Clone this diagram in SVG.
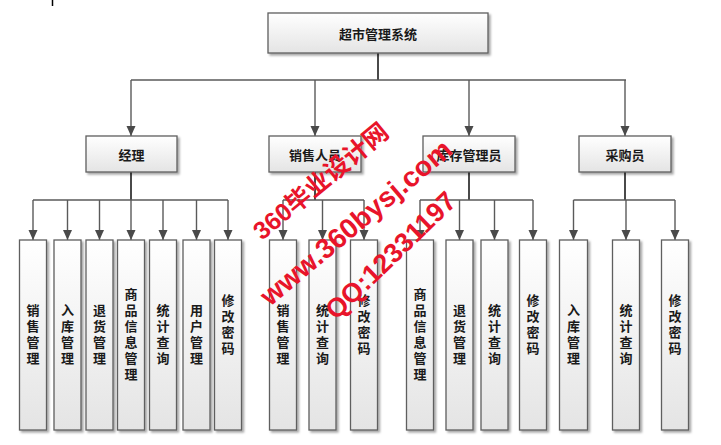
<svg xmlns="http://www.w3.org/2000/svg" width="721" height="445" viewBox="0 0 721 445">
<style>
.box{fill:url(#g);stroke:#5f5f5f;stroke-width:1.3;filter:url(#sh)}
.t{font-family:"Noto Sans CJK SC","Noto Sans",sans-serif;font-size:13px;font-weight:bold;fill:#1a1a1a;text-anchor:middle;dominant-baseline:central}
.v{font-family:"Noto Sans CJK SC","Noto Sans",sans-serif;font-size:13px;font-weight:bold;fill:#1a1a1a;text-anchor:middle;writing-mode:vertical-rl;letter-spacing:3px}
.ln{fill:none;stroke:#5a5a5a;stroke-width:1.4}
.stem{fill:none;stroke:#4a4a4a;stroke-width:2}
.ar{fill:none;stroke:#5a5a5a;stroke-width:1.4;marker-end:url(#ah)}
.wm{font-family:"Liberation Sans",Arial,"Noto Sans CJK SC",sans-serif;fill:#e8142a;font-weight:bold}
</style>
<defs>
<linearGradient id="g" x1="0" y1="0" x2="0" y2="1">
<stop offset="0" stop-color="#ffffff"/>
<stop offset="1" stop-color="#e4e4e4"/>
</linearGradient>
<filter id="sh" x="-20%" y="-20%" width="140%" height="140%">
<feDropShadow dx="2" dy="2" stdDeviation="1.2" flood-color="#000" flood-opacity="0.35"/>
</filter>
<marker id="ah" markerUnits="userSpaceOnUse" markerWidth="10" markerHeight="10" viewBox="0 0 10 10" refX="10" refY="5" orient="auto">
<path d="M0,0.5 L10,5 L0,9.5 Z" fill="#4a4a4a"/>
</marker>
</defs>
<rect width="721" height="445" fill="#ffffff"/>
<line x1="52.5" y1="0" x2="52.5" y2="6" stroke="#000" stroke-width="1.5"/>

<g id="connectors">
<line class="stem" x1="378" y1="53" x2="378" y2="80"/>
<line class="ln" x1="131" y1="80" x2="626" y2="80"/>
<line class="ar" x1="131" y1="80" x2="131" y2="136"/>
<line class="ar" x1="315" y1="80" x2="315" y2="136"/>
<line class="ar" x1="469" y1="80" x2="469" y2="136"/>
<line class="ar" x1="625" y1="80" x2="625" y2="136"/>

<line class="stem" x1="131" y1="172" x2="131" y2="200"/>
<line class="ln" x1="33" y1="200" x2="228" y2="200"/>
<line class="ar" x1="33" y1="200" x2="33" y2="240"/>
<line class="ar" x1="67.5" y1="200" x2="67.5" y2="240"/>
<line class="ar" x1="99.5" y1="200" x2="99.5" y2="240"/>
<line class="ar" x1="131" y1="200" x2="131" y2="240"/>
<line class="ar" x1="163" y1="200" x2="163" y2="240"/>
<line class="ar" x1="196.5" y1="200" x2="196.5" y2="240"/>
<line class="ar" x1="228" y1="200" x2="228" y2="240"/>

<line class="stem" x1="315" y1="172" x2="315" y2="200"/>
<line class="ln" x1="283" y1="200" x2="364" y2="200"/>
<line class="ar" x1="283" y1="200" x2="283" y2="240"/>
<line class="ar" x1="322.5" y1="200" x2="322.5" y2="240"/>
<line class="ar" x1="364" y1="200" x2="364" y2="240"/>

<line class="stem" x1="469" y1="172" x2="469" y2="200"/>
<line class="ln" x1="420" y1="200" x2="533" y2="200"/>
<line class="ar" x1="420" y1="200" x2="420" y2="240"/>
<line class="ar" x1="459.5" y1="200" x2="459.5" y2="240"/>
<line class="ar" x1="494.5" y1="200" x2="494.5" y2="240"/>
<line class="ar" x1="533" y1="200" x2="533" y2="240"/>

<line class="stem" x1="625" y1="172" x2="625" y2="200"/>
<line class="ln" x1="573.5" y1="200" x2="675" y2="200"/>
<line class="ar" x1="573.5" y1="200" x2="573.5" y2="240"/>
<line class="ar" x1="626" y1="200" x2="626" y2="240"/>
<line class="ar" x1="675" y1="200" x2="675" y2="240"/>
</g>

<g id="root"><rect class="box" x="268" y="13" width="220" height="40"/><text class="t" x="378" y="33">超市管理系统</text></g>

<g id="manager"><rect class="box" x="86" y="136" width="91" height="36"/><text class="t" x="131.5" y="154">经理</text></g>
<g id="sales"><rect class="box" x="269" y="136" width="92" height="36"/><text class="t" x="315" y="154">销售人员</text></g>
<g id="stock"><rect class="box" x="423" y="136" width="92" height="36"/><text class="t" x="469" y="154">库存管理员</text></g>
<g id="buyer"><rect class="box" x="579" y="136" width="92" height="36"/><text class="t" x="625" y="154">采购员</text></g>

<g id="m1"><rect class="box" x="19.5" y="240" width="27" height="190"/><text class="v" x="33" y="335.5">销售管理</text></g>
<g id="m2"><rect class="box" x="54" y="240" width="27" height="190"/><text class="v" x="67.5" y="335.5">入库管理</text></g>
<g id="m3"><rect class="box" x="86" y="240" width="27" height="190"/><text class="v" x="99.5" y="335.5">退货管理</text></g>
<g id="m4"><rect class="box" x="117.5" y="240" width="27" height="190"/><text class="v" x="131" y="335.5">商品信息管理</text></g>
<g id="m5"><rect class="box" x="149.5" y="240" width="27" height="190"/><text class="v" x="163" y="335.5">统计查询</text></g>
<g id="m6"><rect class="box" x="183" y="240" width="27" height="190"/><text class="v" x="196.5" y="335.5">用户管理</text></g>
<g id="m7"><rect class="box" x="214.5" y="240" width="27" height="190"/><text class="v" x="228" y="325.5">修改密码</text></g>

<g id="s1"><rect class="box" x="269.5" y="240" width="27" height="190"/><text class="v" x="283" y="335.5">销售管理</text></g>
<g id="s2"><rect class="box" x="309" y="240" width="27" height="190"/><text class="v" x="322.5" y="335.5">统计查询</text></g>
<g id="s3"><rect class="box" x="350.5" y="240" width="27" height="190"/><text class="v" x="364" y="325.5">修改密码</text></g>

<g id="k1"><rect class="box" x="406.5" y="240" width="27" height="190"/><text class="v" x="420" y="335.5">商品信息管理</text></g>
<g id="k2"><rect class="box" x="446" y="240" width="27" height="190"/><text class="v" x="459.5" y="335.5">退货管理</text></g>
<g id="k3"><rect class="box" x="481" y="240" width="27" height="190"/><text class="v" x="494.5" y="335.5">统计查询</text></g>
<g id="k4"><rect class="box" x="519.5" y="240" width="27" height="190"/><text class="v" x="533" y="325.5">修改密码</text></g>

<g id="b1"><rect class="box" x="559.5" y="240" width="28" height="190"/><text class="v" x="573.5" y="335.5">入库管理</text></g>
<g id="b2"><rect class="box" x="612.5" y="240" width="27" height="190"/><text class="v" x="626" y="335.5">统计查询</text></g>
<g id="b3"><rect class="box" x="661.5" y="240" width="27" height="190"/><text class="v" x="675" y="325.5">修改密码</text></g>

<g id="watermark">
<text class="wm" font-size="25" transform="translate(262,241) rotate(-39.5)">360毕业设计网</text>
<text class="wm" font-size="28" transform="translate(270,307) rotate(-40)">www.360bysj.com</text>
<text class="wm" font-size="27" transform="translate(336,321) rotate(-44)">QQ:12331197</text>
</g>
</svg>
